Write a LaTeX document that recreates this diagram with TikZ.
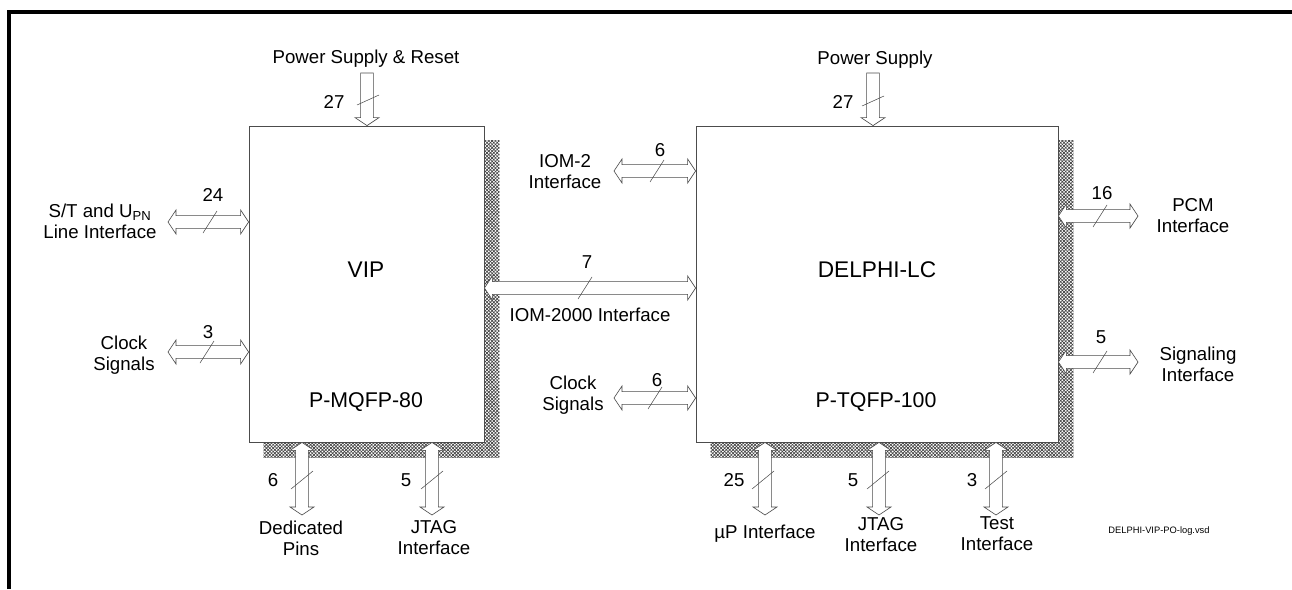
\documentclass[tikz,border=0pt]{standalone}
\usepackage{fontspec}
\setmainfont{Liberation Sans}
\usetikzlibrary{calc,patterns.meta,backgrounds}

% bus arrow geometry
\newcommand{\busS}{4.8pt}
\newcommand{\busH}{9pt}
\newcommand{\busL}{6pt}

% hollow bus arrow, heads at both ends
\newcommand{\busboth}[2]{%
  \draw[bus] (#1)
    -- ($(#1)!\busL!(#2)!\busH!90:(#2)$) -- ($(#1)!\busL!(#2)!\busS!90:(#2)$)
    -- ($(#2)!\busL!(#1)!\busS!-90:(#1)$) -- ($(#2)!\busL!(#1)!\busH!-90:(#1)$)
    -- (#2)
    -- ($(#2)!\busL!(#1)!\busH!90:(#1)$) -- ($(#2)!\busL!(#1)!\busS!90:(#1)$)
    -- ($(#1)!\busL!(#2)!\busS!-90:(#2)$) -- ($(#1)!\busL!(#2)!\busH!-90:(#2)$)
    -- cycle;}
% hollow bus arrow, head at second end only
\newcommand{\busone}[2]{%
  \draw[bus] ($(#1)!\busS!90:(#2)$)
    -- ($(#2)!\busL!(#1)!\busS!-90:(#1)$) -- ($(#2)!\busL!(#1)!\busH!-90:(#1)$)
    -- (#2)
    -- ($(#2)!\busL!(#1)!\busH!90:(#1)$) -- ($(#2)!\busL!(#1)!\busS!90:(#1)$)
    -- ($(#1)!\busS!-90:(#2)$) -- cycle;}
% bus width slash
\newcommand{\busmark}[3]{\draw[markline] ($(#1)+(-#2,#3)$) -- ($(#1)+(#2,-#3)$);}

\begin{document}
\begin{tikzpicture}[x=0.75pt, y=-0.75pt,
    chip/.style={draw=black!70, fill=white, line width=0.6pt, inner sep=0,
                 minimum height=237pt},
    chipname/.style={font=\fontsize{17}{20}\selectfont, inner sep=0},
    pkgname/.style={font=\fontsize{16}{19}\selectfont, inner sep=0},
    lbl/.style={font=\fontsize{14}{15.8}\selectfont, align=center, inner sep=0},
    bus/.style={draw=black!70, fill=white, line width=0.5pt, line join=miter},
    markline/.style={draw=black!70, line width=0.4pt},
    frame/.style={draw=black, line width=2.4pt}
  ]
  \useasboundingbox (0,0) rectangle (1292,589);
  \draw[frame] (9,589) -- (9,12) -- (1292,12);

  % chips
  \node[chip, minimum width=176.25pt] (vip) at (366.5,284) {};
  \node[chip, minimum width=271.5pt]  (dl)  at (877,284) {};

  \begin{scope}[on background layer]
    \foreach \ch in {vip,dl} {
      \fill[pattern={Lines[angle=45,distance=1.8pt,line width=0.5pt]}, pattern color=black!75]
        ($(\ch.south west)+(15,15)$) rectangle ($(\ch.north east)+(15,15)$);
      \fill[pattern={Lines[angle=-45,distance=1.8pt,line width=0.5pt]}, pattern color=black!75]
        ($(\ch.south west)+(15,15)$) rectangle ($(\ch.north east)+(15,15)$);
    }
  \end{scope}

  \node[chipname] (vipname) at (366,270) {VIP};
  \node[pkgname]  (vippkg)  at (366,402) {P-MQFP-80};
  \node[chipname] (dlname)  at (877,270) {DELPHI-LC};
  \node[pkgname]  (dlpkg)   at (876,402) {P-TQFP-100};

  % bus end points
  \coordinate (vpsA) at (367,73);   \coordinate (vpsB) at (vpsA |- vip.north);
  \coordinate (dpsA) at (873,73);   \coordinate (dpsB) at (dpsA |- dl.north);
  \coordinate (lineA) at (168,222); \coordinate (lineB) at (lineA -| vip.west);
  \coordinate (vclkA) at (168,352); \coordinate (vclkB) at (vclkA -| vip.west);
  \coordinate (iomA) at (614,171);  \coordinate (iomB) at (iomA -| dl.west);
  \coordinate (ioxA) at (vip.east |- 0,288); \coordinate (ioxB) at (dl.west |- 0,288);
  \coordinate (dclkA) at (614,398); \coordinate (dclkB) at (dclkA -| dl.west);
  \coordinate (pcmA) at (dl.east |- 0,216);  \coordinate (pcmB) at (1138,216);
  \coordinate (sigA) at (dl.east |- 0,362);  \coordinate (sigB) at (1138,362);
  \coordinate (dedA) at (vip.south -| 302,0); \coordinate (dedB) at (302,515);
  \coordinate (vjtA) at (vip.south -| 432,0); \coordinate (vjtB) at (432,515);
  \coordinate (upA)  at (dl.south -| 765,0);  \coordinate (upB)  at (765,515);
  \coordinate (djtA) at (dl.south -| 879,0);  \coordinate (djtB) at (879,515);
  \coordinate (tstA) at (dl.south -| 996,0);  \coordinate (tstB) at (996,515);

  % buses
  \busone{vpsA}{vpsB}
  \busone{dpsA}{dpsB}
  \busboth{lineA}{lineB}
  \busboth{vclkA}{vclkB}
  \busboth{iomA}{iomB}
  \busboth{ioxA}{ioxB}
  \busboth{dclkA}{dclkB}
  \busboth{pcmA}{pcmB}
  \busboth{sigA}{sigB}
  \busboth{dedA}{dedB}
  \busboth{vjtA}{vjtB}
  \busboth{upA}{upB}
  \busboth{djtA}{djtB}
  \busboth{tstA}{tstB}

  % width marks
  \busmark{368,100}{11}{5}
  \busmark{873,101}{11}{5}
  \busmark{210,222}{7}{11}
  \busmark{207,352}{7}{11}
  \busmark{657,171}{7}{11}
  \busmark{585,288}{7}{11}
  \busmark{655,398}{7}{11}
  \busmark{1100,216}{7}{11}
  \busmark{1100,362}{7}{11}
  \foreach \bx in {302,432,763,878,996}
    \busmark{\bx,480}{11}{9};

  % widths
  \node[lbl] (w27a) at (334,102) {27};
  \node[lbl] (w27b) at (843,102) {27};
  \node[lbl] (w24)  at (213,195) {24};
  \node[lbl] (w3a)  at (208,332) {3};
  \node[lbl] (w6a)  at (660,150) {6};
  \node[lbl] (w7)   at (587,262) {7};
  \node[lbl] (w6b)  at (657,380) {6};
  \node[lbl] (w16)  at (1102,193) {16};
  \node[lbl] (w5a)  at (1101,337) {5};
  \node[lbl] (w6c)  at (273,480) {6};
  \node[lbl] (w5b)  at (406,480) {5};
  \node[lbl] (w25)  at (734,480) {25};
  \node[lbl] (w5c)  at (853,480) {5};
  \node[lbl] (w3b)  at (972,480) {3};

  % interface names
  \node[lbl] (vpsname)  at (366,59)  {Power Supply \& Reset};
  \node[lbl] (dpsname)  at (875,60)  {Power Supply};
  \node[lbl] (linename) at (100,221) {S/T and U\textsubscript{PN}\\Line Interface};
  \node[lbl] (vclkname) at (124,355) {Clock\\Signals};
  \node[lbl] (iomname)  at (565,172) {IOM-2\\Interface};
  \node[lbl] (ioxname)  at (590,315) {IOM-2000 Interface};
  \node[lbl] (dclkname) at (573,395) {Clock\\Signals};
  \node[lbl] (pcmname)  at (1193,216) {PCM\\Interface};
  \node[lbl] (signame)  at (1198,364) {Signaling\\Interface};
  \node[lbl] (dedname)  at (301,538) {Dedicated\\Pins};
  \node[lbl] (vjtname)  at (434,538) {JTAG\\Interface};
  \node[lbl] (upname)   at (765,534) {µP Interface};
  \node[lbl] (djtname)  at (881,535) {JTAG\\Interface};
  \node[lbl] (tstname)  at (997,534) {Test\\Interface};

  \node[font=\fontsize{7}{8}\selectfont, inner sep=0] (fname) at (1159,531) {DELPHI-VIP-PO-log.vsd};
\end{tikzpicture}
\end{document}
